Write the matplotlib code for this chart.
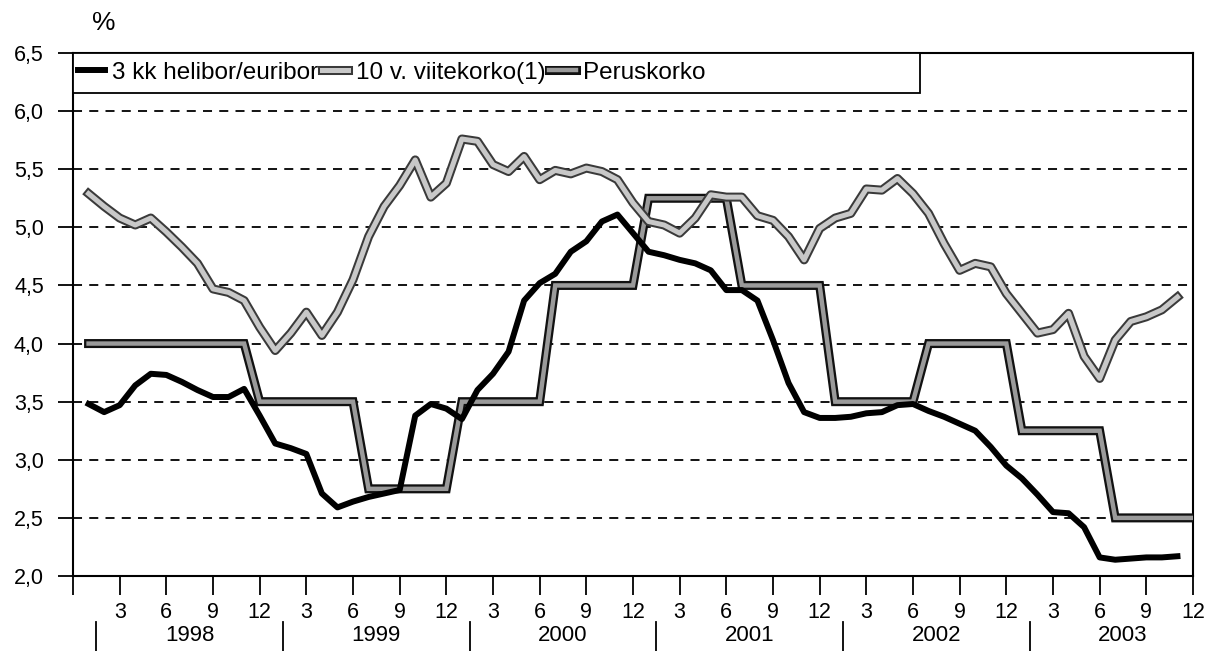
import matplotlib
matplotlib.use("Agg")
import matplotlib.pyplot as plt
import matplotlib.patheffects as pe
from matplotlib.patches import Rectangle
from matplotlib.ticker import FuncFormatter, MultipleLocator
import matplotlib.transforms as mtransforms

plt.rcParams["font.family"] = ["Liberation Sans", "DejaVu Sans"]

# kuukausi 1 = tammikuu 1998
months = list(range(1, 72))
euribor_3kk = [
    3.48, 3.41, 3.47, 3.64, 3.74, 3.73, 3.67, 3.60, 3.54, 3.54, 3.61, 3.38,
    3.14, 3.10, 3.05, 2.71, 2.59, 2.64, 2.68, 2.71, 2.74, 3.38, 3.48, 3.44,
    3.35, 3.60, 3.74, 3.93, 4.37, 4.52, 4.60, 4.79, 4.88, 5.05, 5.11, 4.95,
    4.79, 4.76, 4.72, 4.69, 4.63, 4.46, 4.46, 4.37, 4.03, 3.66, 3.41, 3.36,
    3.36, 3.37, 3.40, 3.41, 3.47, 3.48, 3.42, 3.37, 3.31, 3.25, 3.11, 2.95,
    2.84, 2.70, 2.55, 2.54, 2.42, 2.16, 2.14, 2.15, 2.16, 2.16, 2.17,
]
viitekorko_10v = [
    5.29, 5.18, 5.08, 5.02, 5.08, 4.96, 4.83, 4.69, 4.47, 4.44, 4.37, 4.14,
    3.94, 4.09, 4.27, 4.07, 4.27, 4.55, 4.92, 5.18, 5.36, 5.58, 5.26, 5.38,
    5.76, 5.74, 5.54, 5.48, 5.61, 5.41, 5.49, 5.46, 5.51, 5.48, 5.41, 5.21,
    5.05, 5.02, 4.95, 5.08, 5.28, 5.26, 5.26, 5.10, 5.06, 4.92, 4.72, 4.99,
    5.08, 5.12, 5.33, 5.32, 5.42, 5.29, 5.12, 4.86, 4.63, 4.69, 4.66, 4.43,
    4.26, 4.09, 4.12, 4.26, 3.89, 3.70, 4.03, 4.19, 4.23, 4.29, 4.40,
]
perus_months = list(range(1, 73))
peruskorko = (
    [4.0] * 11 + [3.5] * 7 + [2.75] * 6 + [3.5] * 6 + [4.5] * 6 + [5.25] * 6
    + [4.5] * 6 + [3.5] * 6 + [4.0] * 6 + [3.25] * 6 + [2.5] * 6
)
years = ["1998", "1999", "2000", "2001", "2002", "2003"]
month_labels = ["", "3", "6", "9", "12"] + ["3", "6", "9", "12"] * 5

fig = plt.figure(figsize=(12.13, 6.51), dpi=100)
ax = fig.add_axes([0.0602, 0.1152, 0.9233, 0.8034])

ax.set_xlim(0, 72)
ax.set_ylim(2.0, 6.5)

for v in [2.5, 3.0, 3.5, 4.0, 4.5, 5.0, 5.5, 6.0]:
    ax.axhline(v, color="black", lw=1.3, ls=(0, (5, 4)), zorder=1)

ax.plot(perus_months, peruskorko, color="#9a9a9a", lw=3.2, solid_joinstyle="miter",
        path_effects=[pe.Stroke(linewidth=6.5, foreground="#111111"), pe.Normal()],
        label="Peruskorko", zorder=3)
ax.plot(months, viitekorko_10v, color="#c8c8c8", lw=3.6,
        path_effects=[pe.Stroke(linewidth=6.5, foreground="#3a3a3a"), pe.Normal()],
        label="10 v. viitekorko(1)", zorder=4)
ax.plot(months, euribor_3kk, color="black", lw=4.3, label="3 kk helibor/euribor", zorder=5)

for s in ax.spines.values():
    s.set_linewidth(1.5)

ax.yaxis.set_major_locator(MultipleLocator(0.5))
ax.yaxis.set_major_formatter(FuncFormatter(lambda v, p: f"{v:.1f}".replace(".", ",")))
ax.set_xticks(range(0, 73, 3))
ax.set_xticklabels(month_labels)
ax.tick_params(axis="y", direction="out", length=11, width=1.3, pad=10, labelsize=15.5)
ax.tick_params(axis="x", direction="out", length=14, width=1.3, pad=5, labelsize=15.5)

# vuosirivi ja erottimet
trans = mtransforms.blended_transform_factory(ax.transData, ax.transAxes)
for k, yr in enumerate(years):
    ax.text(7.5 + 12 * k, -0.113, yr, transform=trans, ha="center", va="center", fontsize=16, clip_on=False)
    ax.plot([1.5 + 12 * k] * 2, [-0.088, -0.145], transform=trans, color="black", lw=1.3, clip_on=False)

fig.text(0.076, 0.965, "%", fontsize=19, ha="left", va="center")

# selitelaatikko
ax.add_patch(Rectangle((0, 1 - 40 / 523), 0.756, 40 / 523, transform=ax.transAxes,
                       facecolor="white", edgecolor="black", lw=1.3, zorder=6))
h, l = ax.get_legend_handles_labels()
order = [2, 1, 0]
leg = ax.legend([h[i] for i in order], [l[i] for i in order], loc="center left",
                bbox_to_anchor=(0.0, 1 - 20 / 523), ncol=3, frameon=False, fontsize=17.5,
                handlelength=1.1, handletextpad=0.3, columnspacing=0.15, borderaxespad=0.0,
                borderpad=0.2)
leg.set_zorder(7)

fig.savefig("out.png", dpi=100)
